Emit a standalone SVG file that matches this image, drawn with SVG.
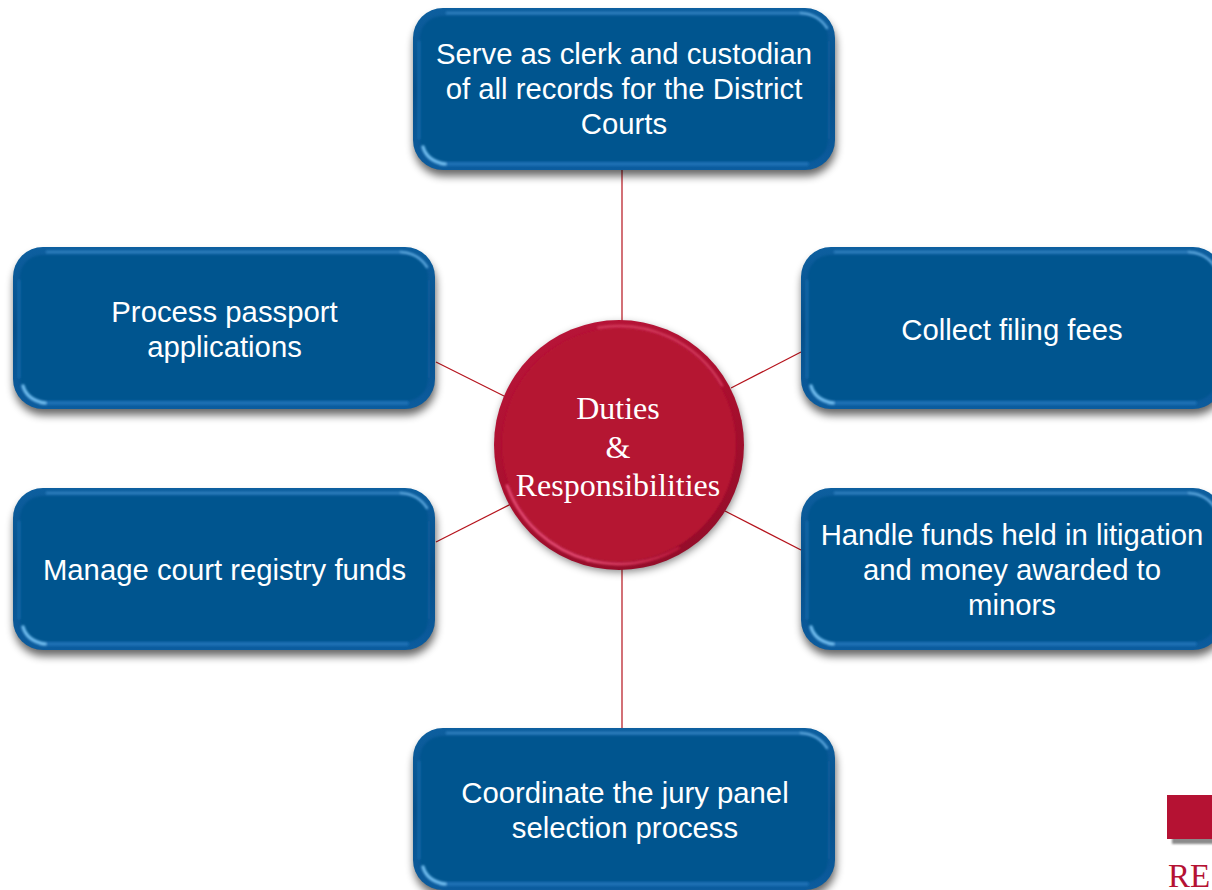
<svg xmlns="http://www.w3.org/2000/svg" width="1212" height="890" viewBox="0 0 1212 890">
<style>
.conn{stroke:#b5121b;stroke-width:1.2;fill:none}
.t{font-family:"Liberation Sans",Arial,sans-serif;font-size:29.3px;fill:#fff;text-anchor:middle}
.c{font-family:"Liberation Serif","Times New Roman",serif;font-size:32px;fill:#fff;text-anchor:middle}
.glow{fill:none;stroke-linecap:round;filter:url(#bl)}
</style>
<defs>
<filter id="sh" x="-10%" y="-10%" width="120%" height="125%"><feGaussianBlur stdDeviation="4"/></filter>
<filter id="bl" x="-20%" y="-20%" width="140%" height="140%"><feGaussianBlur stdDeviation="1.2"/></filter>
<filter id="bl2" filterUnits="userSpaceOnUse" x="-20" y="-20" width="470" height="210"><feGaussianBlur stdDeviation="1.2"/></filter>
<linearGradient id="edge" x1="0" y1="0" x2="0" y2="1">
<stop offset="0" stop-color="#0d5f9f"/><stop offset="0.5" stop-color="#064f8a"/><stop offset="1" stop-color="#0c5c9e"/>
</linearGradient>
<linearGradient id="rim" x1="0.2" y1="0" x2="0.7" y2="1">
<stop offset="0" stop-color="#b91539"/><stop offset="0.55" stop-color="#a80f2e"/><stop offset="1" stop-color="#930d2a"/>
</linearGradient>
<linearGradient id="arcfade" gradientUnits="userSpaceOnUse" x1="690" y1="540" x2="590" y2="560">
<stop offset="0" stop-color="#b51233"/><stop offset="1" stop-color="#e24a70"/>
</linearGradient>
<g id="box">
<rect x="1" y="7" width="422" height="161" rx="30" fill="#000" opacity="0.6" filter="url(#sh)"/>
<rect width="422" height="162" rx="30" fill="url(#edge)"/>
<rect x="7" y="8" width="408" height="146" rx="22" fill="#04548f" filter="url(#bl2)"/>
<g filter="url(#bl2)" fill="none" stroke-linecap="round">
<path d="M34 5H388" stroke="#2f80c0" stroke-width="2.500"/>
<path d="M388 5Q405 6 414 20" stroke="#5aa6dc" stroke-width="2.500"/>
<path d="M28 156H394" stroke="#1a6fb4" stroke-width="4"/>
<path d="M10 139Q14 153 32 156" stroke="#6db9ec" stroke-width="3.500"/>
<path d="M6 34V130" stroke="#1766a6" stroke-width="3"/>
<path d="M416 34V130" stroke="#0f5d9b" stroke-width="2"/>
</g>
</g>
</defs>
<g id="connectors">
<line class="conn" x1="622" y1="170" x2="622" y2="322"/>
<line class="conn" x1="622" y1="568" x2="622" y2="728"/>
<line class="conn" x1="436" y1="362" x2="506" y2="397"/>
<line class="conn" x1="731" y1="388" x2="801" y2="352"/>
<line class="conn" x1="436" y1="542" x2="511" y2="504"/>
<line class="conn" x1="725" y1="511" x2="801" y2="550"/>
</g>
<g id="node-records"><use href="#box" x="413" y="8"/>
<text class="t" x="624" y="63.500">Serve as clerk and custodian</text>
<text class="t" x="624" y="98.500">of all records for the District</text>
<text class="t" x="624" y="133.500">Courts</text></g>
<g id="node-passport"><use href="#box" x="13" y="247"/>
<text class="t" x="224.500" y="321.500">Process passport</text>
<text class="t" x="224.500" y="356.500">applications</text></g>
<g id="node-fees"><use href="#box" x="801" y="247"/>
<text class="t" x="1012" y="339.500">Collect filing fees</text></g>
<g id="node-registry"><use href="#box" x="13" y="488"/>
<text class="t" x="224.500" y="579.500">Manage court registry funds</text></g>
<g id="node-litigation"><use href="#box" x="801" y="488"/>
<text class="t" x="1012" y="544.500">Handle funds held in litigation</text>
<text class="t" x="1012" y="579.500">and money awarded to</text>
<text class="t" x="1012" y="614.500">minors</text></g>
<g id="node-jury"><use href="#box" x="413" y="728"/>
<text class="t" x="625" y="802.500">Coordinate the jury panel</text>
<text class="t" x="625" y="837.500">selection process</text></g>
<g id="node-center">
<circle cx="620" cy="448" r="124" fill="#000" opacity="0.5" filter="url(#sh)"/>
<circle cx="619" cy="445" r="125" fill="url(#rim)"/>
<circle cx="619" cy="445" r="117" fill="#b51233" filter="url(#bl)"/>
<path class="glow" d="M598.300 327.800A119 119 0 0 1 722 385.500" stroke="#d23a5c" stroke-width="2.500"/>
<path class="glow" d="M678.500 548A119 119 0 0 1 588.200 559.900" stroke="url(#arcfade)" stroke-width="3"/>
<path class="glow" d="M588.200 559.900A119 119 0 0 1 507.200 485.700" stroke="#e24a70" stroke-width="3"/>
<text class="c" x="618" y="418.500">Duties</text>
<text class="c" x="618" y="457.500">&amp;</text>
<text class="c" x="618" y="495.500">Responsibilities</text>
</g>
<g id="corner">
<rect x="1172" y="800" width="45" height="44" fill="#000" opacity="0.45" filter="url(#bl)"/>
<rect x="1167" y="795" width="50" height="44" fill="#b51233"/>
<text x="1168" y="887" font-family="'Liberation Serif','Times New Roman',serif" font-size="33" fill="#b51233">RE</text>
</g>
</svg>
